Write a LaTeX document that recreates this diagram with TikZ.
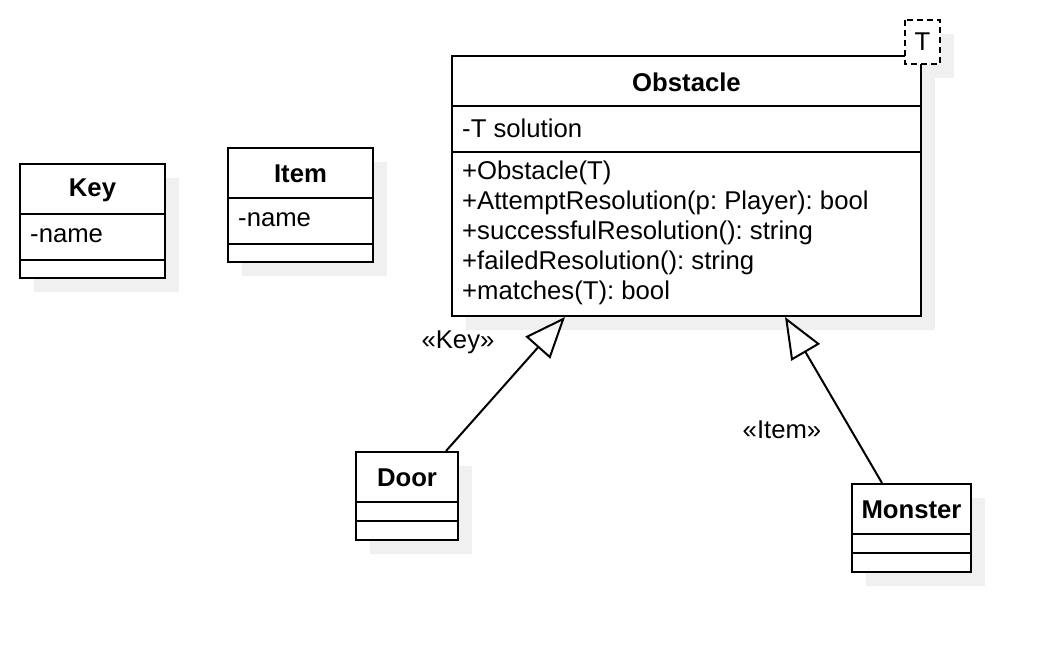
\documentclass[tikz,border=0pt]{standalone}
\usepackage{fontspec}
\setmainfont{Liberation Sans}
\usetikzlibrary{arrows.meta}
\definecolor{shadowgray}{HTML}{F0F0F0}
\frenchspacing
\begin{document}
\begin{tikzpicture}[x=1pt,y=-1pt,
  classbox/.style={draw, fill=white, line width=2pt},
  shadowbox/.style={fill=shadowgray, draw=none},
  sepline/.style={line width=2pt},
  titletext/.style={font=\fontsize{25.7}{30}\selectfont\bfseries, inner sep=0pt},
  membertext/.style={font=\fontsize{25.7}{30}\selectfont, anchor=west, inner sep=0pt},
  stereo/.style={font=\fontsize{25.7}{30}\selectfont, inner sep=0pt},
  gen/.style={-{Triangle[open,length=41pt,width=33pt]}, line width=2pt}]
\useasboundingbox (0,0) rectangle (1050,652);
% shadows
\fill[shadowgray] (34,178) rectangle (179,292);
\fill[shadowgray] (242,162) rectangle (387,276);
\fill[shadowgray] (466,70) rectangle (935,330);
\fill[shadowgray] (919,34) rectangle (954,78);
\fill[shadowgray] (370,466) rectangle (472,554);
\fill[shadowgray] (866,498) rectangle (985,586);
% Key
\draw[classbox] (20,164) rectangle (165,278);
\draw[sepline] (20,214) -- (165,214);
\draw[sepline] (20,260) -- (165,260);
\node[titletext] (keyt) at (92.5,190) {Key};
\node[membertext] (keya) at (30,236) {-name};
% Item
\draw[classbox] (228,148) rectangle (373,262);
\draw[sepline] (228,198) -- (373,198);
\draw[sepline] (228,244) -- (373,244);
\node[titletext] (itemt) at (300.5,174) {Item};
\node[membertext] (itema) at (238,220) {-name};
% Obstacle
\draw[classbox] (452,56) rectangle (921,316);
\draw[sepline] (452,106) -- (921,106);
\draw[sepline] (452,152) -- (921,152);
\node[titletext] (obst) at (686.5,82) {Obstacle};
\node[membertext] (obsa) at (462,128) {-T solution};
\node[membertext] (obsm1) at (462,173) {+Obstacle(T)};
\node[membertext] (obsm2) at (462,203) {+AttemptResolution(p: Player): bool};
\node[membertext] (obsm3) at (462,233) {+successfulResolution(): string};
\node[membertext] (obsm4) at (462,263) {+failedResolution(): string};
\node[membertext] (obsm5) at (462,293) {+matches(T): bool};
% template parameter
\draw[classbox, dashed, dash pattern=on 6pt off 4pt] (905,20) rectangle (940,64);
\node[stereo] (tpl) at (922.5,42) {T};
% Door
\draw[classbox] (356,452) rectangle (458,540);
\draw[sepline] (356,502) -- (458,502);
\draw[sepline] (356,521) -- (458,521);
\node[titletext] (doort) at (407,478) {Door};
% Monster
\draw[classbox] (852,484) rectangle (971,572);
\draw[sepline] (852,534) -- (971,534);
\draw[sepline] (852,553) -- (971,553);
\node[titletext] (monst) at (911.5,510) {Monster};
% generalizations
\coordinate (doortop) at (446,451);
\coordinate (obsbl) at (565,317);
\coordinate (montop) at (882,483);
\coordinate (obsbr) at (785,317);
\draw[gen] (doortop) -- (obsbl);
\draw[gen] (montop) -- (obsbr);
\node[stereo] (lkey) at (458,342) {«Key»};
\node[stereo] (litem) at (782,430) {«Item»};
\end{tikzpicture}
\end{document}
